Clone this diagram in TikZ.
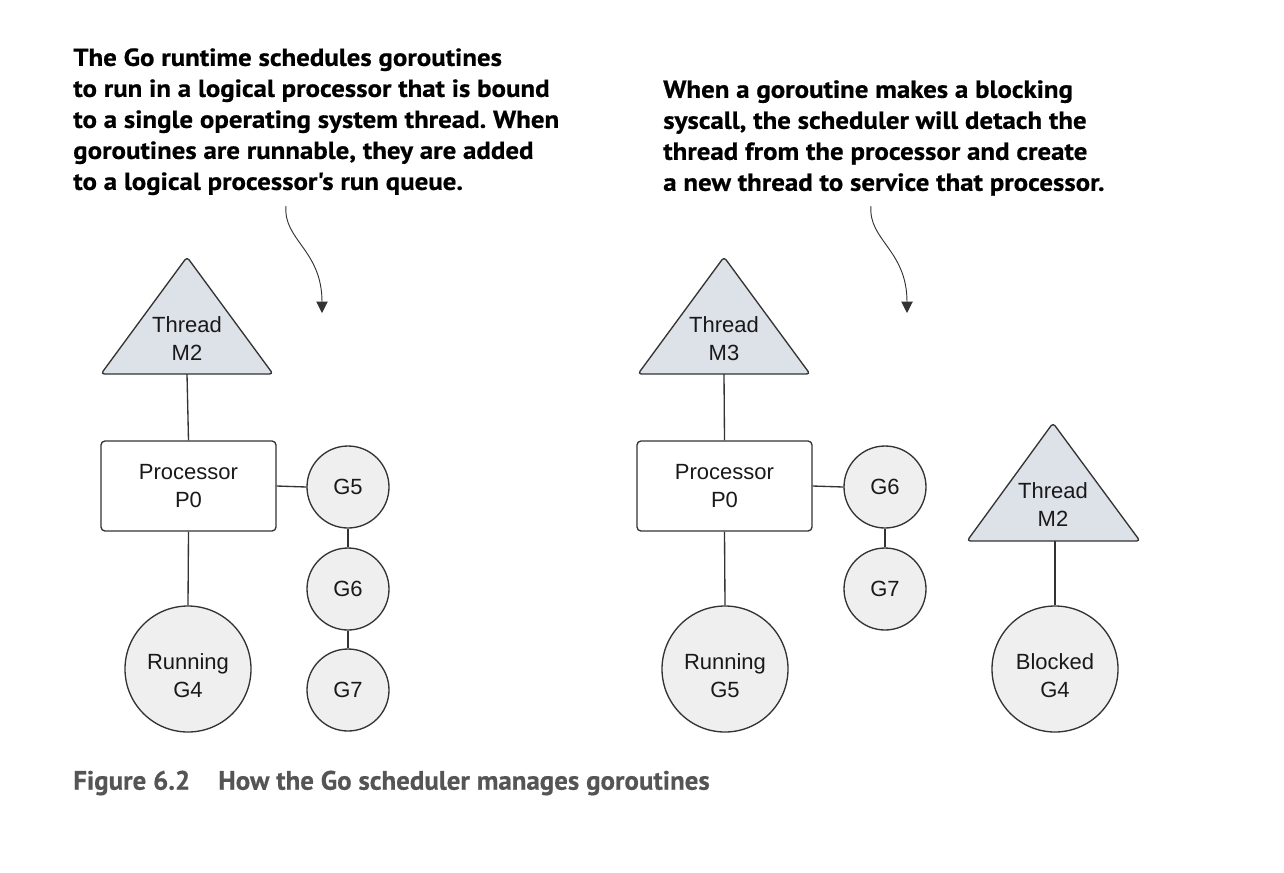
\documentclass[tikz,border=0pt]{standalone}
\usepackage{fontspec}
\setmainfont{Liberation Sans}
\newfontfamily\headfont[FakeStretch=1.09,FakeBold=0.6]{PT Sans}
\newfontfamily\capfont[FakeStretch=1.01,FakeBold=0.4]{PT Sans}
\usetikzlibrary{arrows.meta}
\definecolor{ln}{HTML}{333333}
\definecolor{trifill}{HTML}{DDE1E8}
\definecolor{circfill}{HTML}{EFEFEF}
\definecolor{capgray}{HTML}{555555}
\frenchspacing
\begin{document}
\begin{tikzpicture}[x=0.75pt,y=-0.75pt,
  every node/.style={font=\fontsize{16.5pt}{21pt}\selectfont, text=black!90, align=center},
  tri/.style={draw=ln, line width=1pt, fill=trifill, rounded corners=2.5pt, line join=round},
  procbox/.style={draw=ln, line width=1pt, fill=white, rounded corners=3pt, minimum width=131.25pt, minimum height=67.5pt, inner sep=0pt},
  gsmall/.style={draw=ln, line width=1pt, fill=circfill, circle, minimum size=61.5pt, inner sep=0pt},
  gbig/.style={draw=ln, line width=1pt, fill=circfill, circle, minimum size=94.5pt, inner sep=0pt},
  gtext/.style={label={[yshift=-5.25pt]center:#1}},
  conn/.style={draw=ln, line width=1pt},
  callout/.style={draw=ln, line width=0.7pt, -{Triangle[length=8.5pt,width=8.5pt]}},
  head/.style={font=\headfont\bfseries\fontsize{18.5pt}{23.25pt}\selectfont, align=left, anchor=north west, inner sep=0pt, text=black}
]
\useasboundingbox (0,0) rectangle (1284,872);

% header texts
\node[head] (txtL) at (73,48) {The Go runtime schedules goroutines\\to run in a logical processor that is bound\\to a single operating system thread. When\\goroutines are runnable, they are added\\to a logical processor's run queue.};
\node[head] (txtR) at (663,80) {When a goroutine makes a blocking\\syscall, the scheduler will detach the\\thread from the processor and create\\a new thread to service that processor.};

% callout arrows
\coordinate (aL0) at (286,206);
\coordinate (aL1) at (322,313);
\draw[callout] (aL0) .. controls (283,240) and (322,250) .. (aL1);
\coordinate (aR0) at (871,206);
\coordinate (aR1) at (907,313);
\draw[callout] (aR0) .. controls (868,240) and (907,250) .. (aR1);

% ---------- left diagram ----------
\draw[tri] (187,257) -- (273,374) -- (101,374) -- cycle;
\node (thrL) at (187,339) {Thread\\M2};
\coordinate (thrLb) at (187,374);
\node[procbox] (procL) at (188.5,486) {Processor\\P0};
\node[gsmall] (g5L) at (348,487) {G5};
\node[gsmall] (g6L) at (348,589) {G6};
\node[gsmall] (g7L) at (348,690) {G7};
\node[gbig, gtext={Running\\G4}] (runL) at (188,669) {};
\draw[conn] (thrLb) -- (procL.north);
\draw[conn] (procL.east) -- (g5L.west);
\draw[conn] (g5L.south) -- (g6L.north);
\draw[conn] (g6L.south) -- (g7L.north);
\draw[conn] (procL.south) -- (runL.north);

% ---------- right diagram ----------
\draw[tri] (724,257) -- (810,374) -- (638,374) -- cycle;
\node (thrR) at (724,339) {Thread\\M3};
\coordinate (thrRb) at (724,374);
\node[procbox] (procR) at (724.5,486) {Processor\\P0};
\node[gsmall] (g6R) at (885,487) {G6};
\node[gsmall] (g7R) at (885,589) {G7};
\node[gbig, gtext={Running\\G5}] (runR) at (725,669) {};
\draw[conn] (thrRb) -- (procR.north);
\draw[conn] (procR.east) -- (g6R.west);
\draw[conn] (g6R.south) -- (g7R.north);
\draw[conn] (procR.south) -- (runR.north);

\draw[tri] (1053,423) -- (1140,541) -- (967,541) -- cycle;
\node (thrB) at (1053,505) {Thread\\M2};
\coordinate (thrBb) at (1055,541);
\node[gbig, gtext={Blocked\\G4}] (blk) at (1055,669) {};
\draw[conn] (thrBb) -- (blk.north);

% caption
\node[font=\capfont\bfseries\fontsize{20pt}{24pt}\selectfont, text=capgray, anchor=west, inner sep=0pt] (cap) at (73,783) {Figure 6.2\hspace{1.05em}How the Go scheduler manages goroutines};
\end{tikzpicture}
\end{document}
